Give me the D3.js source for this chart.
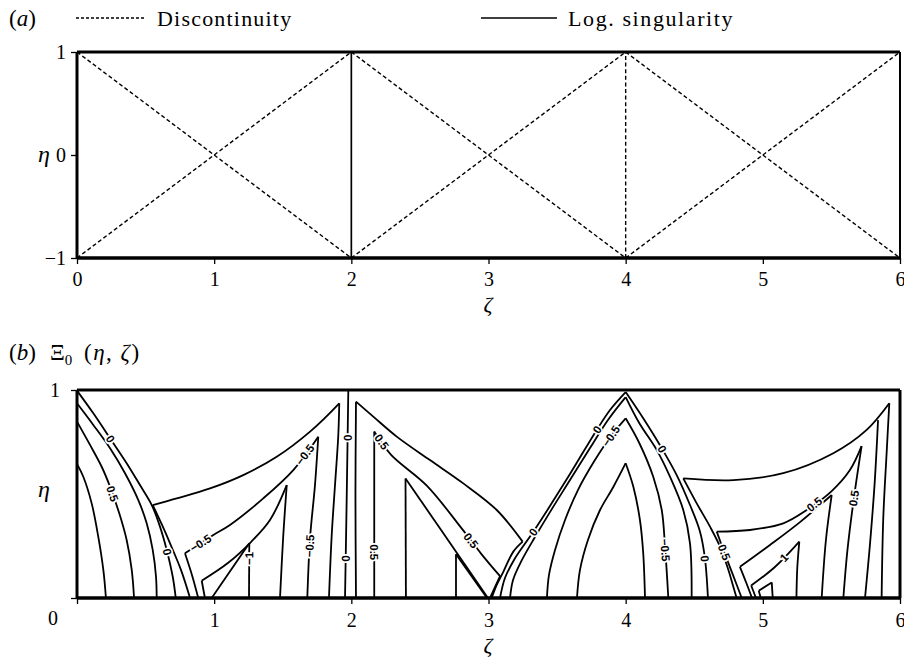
<!DOCTYPE html>
<html>
<head>
<meta charset="utf-8">
<script src="https://cdn.jsdelivr.net/npm/d3@7"></script>
<style>
  body { margin: 0; background: #fff; }
  svg { display: block; }
  text { font-family: "Liberation Serif", "Times New Roman", serif; fill: #000; }
  .clabel { font-family: "Liberation Sans", Arial, sans-serif; font-size: 11.5px; font-weight: bold;
            stroke: #fff; stroke-width: 3.4px; paint-order: stroke; stroke-linejoin: round; }
</style>
</head>
<body>
<svg id="fig" width="904" height="659"></svg>
<script>
// ---------- data ----------
const zetaTicks = [0, 1, 2, 3, 4, 5, 6];
const etaTicksA = [-1, 0, 1];
const etaTicksB = [0, 1];
const legendLabels = ["Discontinuity", "Log. singularity"];

// panel (a): characteristic lines carrying a discontinuity, and the log-singular line
const discontinuities = [
  [[0, 1], [2, -1]], [[0, -1], [2, 1]],
  [[2, -1], [4, 1]], [[2, 1], [4, -1]],
  [[4, 1], [6, -1]], [[4, -1], [6, 1]],
  [[4, -1], [4, 1]]
];
const logSingularities = [[[2, -1], [2, 1]]];

// panel (b): contour pieces of Xi_0(eta, zeta); each piece is a smooth run, pieces meet at corners
const fanZero = [
  [[0, 0.645], [0.046, 0.583], [0.107, 0.455], [0.155, 0.295], [0.192, 0.135], [0.211, 0]],
  [[0, 0.848], [0.095, 0.736], [0.18, 0.631], [0.241, 0.535], [0.308, 0.407], [0.362, 0.279], [0.399, 0.135], [0.416, 0]],
  [[0, 0.936], [0.119, 0.832], [0.241, 0.72], [0.35, 0.6], [0.447, 0.471], [0.508, 0.359], [0.552, 0.231], [0.576, 0.102], [0.581, 0]],
  [[0, 0.997], [0.119, 0.888], [0.241, 0.768], [0.362, 0.648], [0.459, 0.543], [0.545, 0.447], [0.605, 0.343], [0.654, 0.231], [0.698, 0.102], [0.72, 0]]
];
const wedgesOne = [
  [[0.824, 0], [0.758, 0.135], [0.693, 0.24], [0.62, 0.351], [0.552, 0.447]],
  [[0.552, 0.447], [0.727, 0.479], [0.97, 0.527], [1.212, 0.591], [1.456, 0.679], [1.699, 0.8], [1.912, 0.936]],
  [[1.912, 0.936], [1.905, 0.784], [1.881, 0.543], [1.857, 0.303], [1.837, 0]],
  [[0.884, 0], [0.838, 0.111], [0.787, 0.215]],
  [[0.787, 0.215], [0.994, 0.303], [1.115, 0.351], [1.358, 0.479], [1.577, 0.615], [1.759, 0.775]],
  [[1.759, 0.775], [1.735, 0.543], [1.699, 0.288], [1.679, 0]],
  [[0.933, 0], [0.909, 0.083]],
  [[0.909, 0.083], [1.1, 0.168], [1.268, 0.269], [1.407, 0.375], [1.529, 0.543]],
  [[1.529, 0.543], [1.504, 0.303], [1.48, 0]],
  [[0.982, 0], [1.256, 0.263]],
  [[1.256, 0.263], [1.254, 0]]
];
const linesTwo = [
  [[1.978, 1], [1.966, 0.471], [1.954, 0]],
  [[2.034, 0], [2.03, 0.5], [2.034, 0.944]],
  [[2.034, 0.944], [2.16, 0.872], [2.331, 0.776], [2.573, 0.663], [2.816, 0.551], [3.06, 0.423], [3.249, 0.271]],
  [[3.249, 0.271], [3.181, 0.223], [3.108, 0.126], [3.06, 0.063], [3.023, 0]],
  [[2.167, 0], [2.167, 0.8]],
  [[2.167, 0.8], [2.29, 0.688], [2.55, 0.54], [2.81, 0.33], [2.95, 0.21], [3.084, 0.105]],
  [[3.084, 0.105], [3.011, 0]],
  [[2.398, 0], [2.395, 0.575]],
  [[2.395, 0.575], [2.996, 0]],
  [[2.763, 0], [2.763, 0.21]],
  [[2.763, 0.21], [2.989, 0]]
];
const archesFour = [
  [[3.084, 0], [3.12, 0.096], [3.186, 0.183], [3.259, 0.255], [3.327, 0.319], [3.448, 0.442], [3.594, 0.596], [3.789, 0.808], [3.886, 0.904], [4.0, 0.99]],
  [[4.0, 0.99], [4.128, 0.864], [4.263, 0.72], [4.372, 0.591], [4.469, 0.447], [4.542, 0.319], [4.578, 0.191], [4.6, 0]],
  [[3.157, 0], [3.179, 0.087], [3.244, 0.183], [3.339, 0.293], [3.448, 0.413], [3.594, 0.567], [3.74, 0.721], [3.871, 0.856], [4.0, 0.966]],
  [[4.0, 0.966], [4.1, 0.84], [4.226, 0.712], [4.323, 0.583], [4.42, 0.423], [4.469, 0.263], [4.481, 0]],
  [[3.426, 0], [3.441, 0.111], [3.485, 0.231], [3.558, 0.375], [3.652, 0.519], [3.776, 0.663], [3.893, 0.779], [4.0, 0.864]],
  [[4.0, 0.864], [4.1, 0.744], [4.201, 0.583], [4.263, 0.423], [4.287, 0.247], [4.311, 0]],
  [[3.645, 0], [3.667, 0.135], [3.725, 0.279], [3.813, 0.423], [3.911, 0.535], [4.0, 0.648]],
  [[4.0, 0.648], [4.056, 0.535], [4.104, 0.375], [4.128, 0.215], [4.141, 0]]
];
const wedgesFive = [
  [[4.809, 0], [4.785, 0.054], [4.749, 0.135], [4.688, 0.247], [4.615, 0.343], [4.518, 0.455], [4.42, 0.575]],
  [[4.42, 0.575], [4.785, 0.567], [5.149, 0.6], [5.514, 0.696], [5.757, 0.808], [5.922, 0.936]],
  [[5.922, 0.936], [5.903, 0.703], [5.878, 0.383], [5.866, 0]],
  [[5.84, 0.855], [5.815, 0.55], [5.78, 0.25], [5.745, 0]],
  [[4.846, 0], [4.782, 0.111], [4.717, 0.223], [4.664, 0.319]],
  [[4.664, 0.319], [4.906, 0.327], [5.149, 0.359], [5.32, 0.423], [5.502, 0.514], [5.635, 0.615], [5.72, 0.73]],
  [[5.72, 0.73], [5.662, 0.471], [5.617, 0.231], [5.587, 0]],
  [[4.921, 0], [4.877, 0.077], [4.833, 0.15]],
  [[4.833, 0.15], [5.052, 0.255], [5.271, 0.365], [5.502, 0.495]],
  [[5.502, 0.495], [5.46, 0.279], [5.429, 0]],
  [[4.95, 0], [4.915, 0.06]],
  [[4.915, 0.06], [5.088, 0.149], [5.266, 0.271]],
  [[5.266, 0.271], [5.251, 0.143], [5.245, 0]],
  [[4.985, 0], [4.97, 0.035]],
  [[4.97, 0.035], [5.065, 0.075]],
  [[5.065, 0.075], [5.072, 0]]
];

// contour values written on the lines, at an approximate (zeta, eta) spot
const contourLabels = [
  { text: "0", at: [0.245, 0.765] },
  { text: "0.5", at: [0.25, 0.5] },
  { text: "0", at: [0.65, 0.22] },
  { text: "\u22120.5", at: [0.9, 0.265] },
  { text: "\u22120.5", at: [1.66, 0.69] },
  { text: "\u22120.5", at: [1.69, 0.25] },
  { text: "\u22121", at: [1.255, 0.19] },
  { text: "0", at: [1.968, 0.77] },
  { text: "0", at: [1.957, 0.19] },
  { text: "0.5", at: [2.22, 0.75] },
  { text: "0.5", at: [2.167, 0.22] },
  { text: "0.5", at: [2.88, 0.28] },
  { text: "0", at: [3.32, 0.32] },
  { text: "0", at: [3.79, 0.81] },
  { text: "\u22120.5", at: [3.9, 0.775] },
  { text: "0", at: [4.265, 0.715] },
  { text: "\u22120.5", at: [4.287, 0.23] },
  { text: "0", at: [4.585, 0.19] },
  { text: "0.5", at: [4.72, 0.22] },
  { text: "0.5", at: [5.37, 0.455] },
  { text: "0.5", at: [5.655, 0.48] },
  { text: "1", at: [5.16, 0.19] }
];

// ---------- drawing ----------
const svg = d3.select("#fig");
const x = d3.scaleLinear().domain([0, 6]).range([77, 900]);
const yA = d3.scaleLinear().domain([-1, 1]).range([258, 52]);
const yB = d3.scaleLinear().domain([0, 1]).range([598, 390]);

function styleAxis(g) {
  g.attr("font-family", "Liberation Serif, Times New Roman, serif").attr("font-size", 20);
  g.select(".domain").remove();
  g.selectAll(".tick line").attr("stroke", "#000").attr("stroke-width", 1.3);
  g.selectAll(".tick text").attr("fill", "#000");
}

// title row of panel (a) with legend
const hdr = svg.append("text").attr("x", 9).attr("y", 26).attr("font-size", 23);
hdr.append("tspan").text("(");
hdr.append("tspan").attr("font-style", "italic").text("a");
hdr.append("tspan").text(")");

svg.append("line").attr("x1", 76).attr("x2", 144).attr("y1", 18).attr("y2", 18)
  .attr("stroke", "#000").attr("stroke-width", 1.3).attr("stroke-dasharray", "3,2");
svg.append("text").attr("x", 157).attr("y", 26).attr("font-size", 22)
  .attr("letter-spacing", 1.2).text(legendLabels[0]);
svg.append("line").attr("x1", 481).attr("x2", 557).attr("y1", 18).attr("y2", 18)
  .attr("stroke", "#000").attr("stroke-width", 1.6);
svg.append("text").attr("x", 568).attr("y", 26).attr("font-size", 22)
  .attr("letter-spacing", 1.6).text(legendLabels[1]);

// panel (a)
const gA = svg.append("g");
gA.selectAll("line.disc").data(discontinuities).join("line")
  .attr("class", "disc")
  .attr("x1", d => x(d[0][0])).attr("y1", d => yA(d[0][1]))
  .attr("x2", d => x(d[1][0])).attr("y2", d => yA(d[1][1]))
  .attr("stroke", "#000").attr("stroke-width", 1.4).attr("stroke-dasharray", "4,2.6");
gA.selectAll("line.sing").data(logSingularities).join("line")
  .attr("class", "sing")
  .attr("x1", d => x(d[0][0])).attr("y1", d => yA(d[0][1]))
  .attr("x2", d => x(d[1][0])).attr("y2", d => yA(d[1][1]))
  .attr("stroke", "#000").attr("stroke-width", 1.7);

function frame(g, yTop, yBot, wRight) {
  g.append("line").attr("x1", x(0)).attr("x2", x(6)).attr("y1", yTop).attr("y2", yTop).attr("stroke", "#000").attr("stroke-width", 3);
  g.append("line").attr("x1", x(0)).attr("x2", x(6)).attr("y1", yBot).attr("y2", yBot).attr("stroke", "#000").attr("stroke-width", 3.4);
  g.append("line").attr("x1", x(0)).attr("x2", x(0)).attr("y1", yTop).attr("y2", yBot).attr("stroke", "#000").attr("stroke-width", 3);
  g.append("line").attr("x1", x(6)).attr("x2", x(6)).attr("y1", yTop).attr("y2", yBot).attr("stroke", "#000").attr("stroke-width", wRight);
}
frame(gA, yA(1), yA(-1), 2);

svg.append("g").attr("transform", `translate(0,${yA(-1)})`)
  .call(d3.axisBottom(x).tickValues(zetaTicks).tickSize(6).tickPadding(8).tickFormat(d3.format("d")))
  .call(styleAxis);
svg.append("g").attr("transform", `translate(${x(0)},0)`)
  .call(d3.axisLeft(yA).tickValues(etaTicksA).tickSize(6).tickPadding(5).tickFormat(d3.format("d")))
  .call(styleAxis);

svg.append("text").attr("x", 44).attr("y", 162).attr("font-size", 24).attr("font-style", "italic")
  .attr("text-anchor", "middle").text("η");
svg.append("text").attr("x", 488).attr("y", 312).attr("font-size", 22).attr("font-style", "italic")
  .attr("text-anchor", "middle").text("ζ");

// panel (b) title
const tb = svg.append("text").attr("x", 9).attr("y", 360).attr("font-size", 23);
tb.append("tspan").text("(");
tb.append("tspan").attr("font-style", "italic").text("b");
tb.append("tspan").text(")");
tb.append("tspan").attr("x", 50).text("Ξ");
tb.append("tspan").attr("font-size", 15).attr("dy", 5).text("0");
tb.append("tspan").attr("x", 84).attr("dy", -5).attr("letter-spacing", 1.5).text("(");
tb.append("tspan").attr("font-style", "italic").attr("letter-spacing", 1.5).text("η");
tb.append("tspan").attr("letter-spacing", 1.5).text(", ");
tb.append("tspan").attr("font-style", "italic").attr("letter-spacing", 1.5).text("ζ");
tb.append("tspan").text(")");

// panel (b) contours
const gB = svg.append("g");
const pieces = [].concat(fanZero, wedgesOne, linesTwo, archesFour, wedgesFive);
const line = d3.line().x(d => x(d[0])).y(d => yB(d[1])).curve(d3.curveCatmullRom.alpha(0.5));
gB.selectAll("path.contour").data(pieces).join("path")
  .attr("class", "contour")
  .attr("d", line)
  .attr("fill", "none").attr("stroke", "#000").attr("stroke-width", 1.8)
  .attr("stroke-linejoin", "miter").attr("stroke-linecap", "butt");

// place each value label on the nearest contour segment, aligned with it
function snap(pt) {
  const px = x(pt[0]), py = yB(pt[1]);
  let best = null;
  pieces.forEach(p => {
    for (let i = 0; i < p.length - 1; i++) {
      const ax = x(p[i][0]), ay = yB(p[i][1]), bx = x(p[i + 1][0]), by = yB(p[i + 1][1]);
      const dx = bx - ax, dy = by - ay, L2 = dx * dx + dy * dy;
      let t = L2 ? ((px - ax) * dx + (py - ay) * dy) / L2 : 0;
      t = Math.max(0, Math.min(1, t));
      const qx = ax + t * dx, qy = ay + t * dy;
      const d2 = (qx - px) ** 2 + (qy - py) ** 2;
      if (!best || d2 < best.d2) best = { d2, qx, qy, ang: Math.atan2(dy, dx) * 180 / Math.PI };
    }
  });
  let a = best.ang;
  if (a > 90) a -= 180;
  if (a <= -90) a += 180;
  return { x: best.qx, y: best.qy, a };
}
gB.selectAll("text.clabel").data(contourLabels).join("text")
  .attr("class", "clabel")
  .attr("text-anchor", "middle").attr("dy", "0.36em")
  .attr("transform", d => { const s = snap(d.at); return `translate(${s.x},${s.y}) rotate(${s.a})`; })
  .text(d => d.text);

frame(gB, yB(1), yB(0), 3);

svg.append("g").attr("transform", `translate(0,${yB(0)})`)
  .call(d3.axisBottom(x).tickValues(zetaTicks).tickSize(6).tickPadding(9).tickFormat(d => d === 0 ? "" : d3.format("d")(d)))
  .call(styleAxis);
const axLB = svg.append("g").attr("transform", `translate(${x(0)},0)`)
  .call(d3.axisLeft(yB).tickValues(etaTicksB).tickSize(6).tickPadding(11).tickFormat(d3.format("d")))
  .call(styleAxis);
axLB.selectAll(".tick text").filter(d => d === 0).attr("dy", "1.3em").attr("x", -19);

svg.append("text").attr("x", 44).attr("y", 497).attr("font-size", 24).attr("font-style", "italic")
  .attr("text-anchor", "middle").text("η");
svg.append("text").attr("x", 488).attr("y", 653).attr("font-size", 22).attr("font-style", "italic")
  .attr("text-anchor", "middle").text("ζ");
</script>
</body>
</html>
